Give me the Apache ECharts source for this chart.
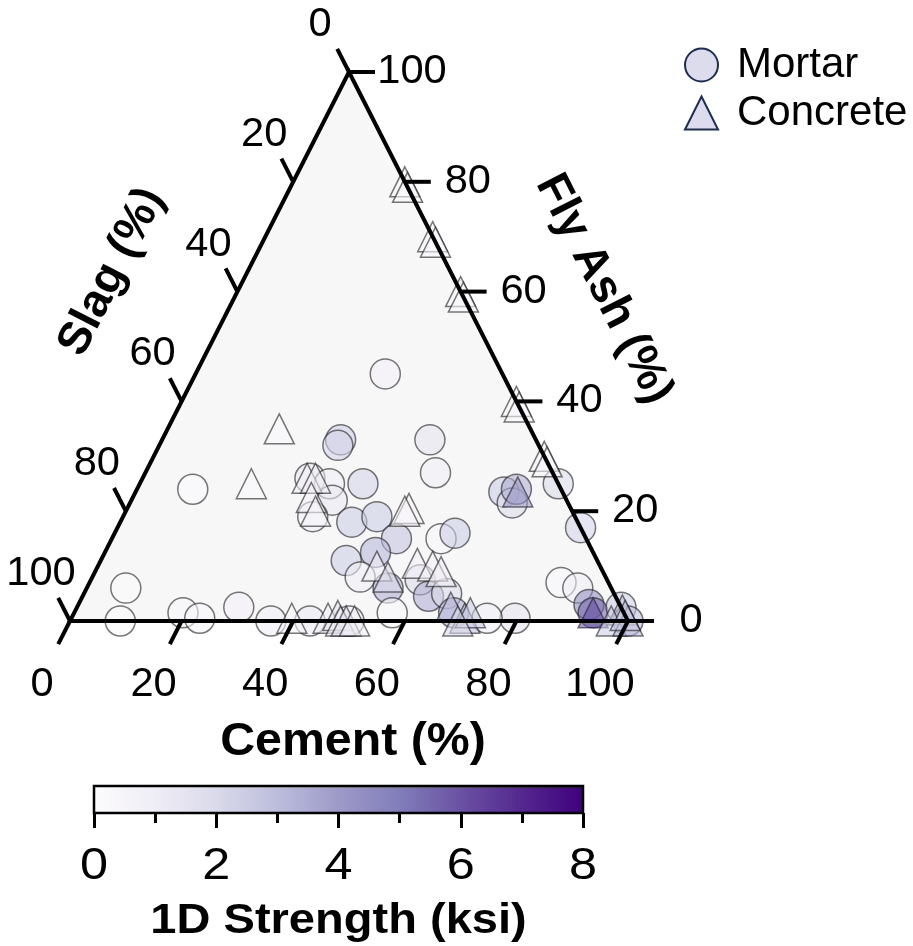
<!DOCTYPE html>
<html><head><meta charset="utf-8">
<script src="https://cdn.jsdelivr.net/npm/echarts@6/dist/echarts.min.js"></script>
<style>html,body{margin:0;padding:0;background:#fff}#c{width:913px;height:946px}</style>
</head><body><div id="c"></div>
<script>
// ---- tick labels ----
const ternaryTicks = [0, 20, 40, 60, 80, 100];
const strengthTicks = [0, 2, 4, 6, 8];

// ---- Mortar (percent cement / slag / fly ash, 1D strength ksi) ----
const mortarCement = [34, 32, 32, 48, 52, 10, 7, 9, 19.5, 23, 29, 36, 43, 50, 30, 34, 36, 34, 40, 41.5, 45.5, 51, 59, 61, 44, 48.5, 48, 54, 59, 62, 65, 57, 66, 68.5, 68, 75, 83, 84.5, 88, 91.5, 93, 97.5, 100, 79.5, 74.5, 68];
const mortarSlag   = [21, 35, 36, 19, 21, 66, 87, 91, 79, 76.5, 68.5, 64, 57, 50, 44, 41, 42, 47, 35, 40.5, 35.5, 34, 26, 23, 45, 39, 44, 40, 33.5, 33.5, 30, 41.5, 10.5, 10, 8, 0, 0, 8.5, 6, 5.5, 5.5, 0, 0, 20, 25, 30.5];
const mortarFlyAsh = [45, 33, 32, 33, 27, 24, 6, 0, 1.5, 0.5, 2.5, 0, 0, 0, 26, 25, 22, 19, 25, 18, 19, 15, 15, 16, 11, 12.5, 8, 6, 7.5, 4.5, 5, 1.5, 23.5, 21.5, 24, 25, 17, 7, 6, 3, 1.5, 2.5, 0, 0.5, 0.5, 1.5];
const mortarStrength = [0.8, 2.5, 2.2, 1.5, 1.0, 0.2, 0.1, 0.1, 0.4, 0.3, 0.8, 0.9, 1.2, 1.0, 1.2, 1.0, 1.2, 1.0, 2.2, 2.5, 2.5, 2.8, 0.5, 2.5, 2.5, 3.2, 0.9, 3.5, 2.0, 3.5, 2.0, 0.3, 2.5, 2.0, 3.5, 2.0, 2.2, 0.3, 1.0, 4.5, 5.5, 2.5, 3.0, 1.5, 1.0, 3.5];

// ---- Concrete ----
const concreteCement = [20, 20, 20, 21, 30, 31, 40, 41, 60, 61, 70, 71, 68.5, 50.5, 50, 29.5, 31, 32, 34, 50, 53, 57, 60, 62, 67, 39.5, 46, 47.5, 48.5, 49.5, 51, 70.5, 71, 69.5, 93, 98, 97, 100, 99];
const concreteSlag   = [45, 55, 0, 0, 0, 0, 0, 0, 0, 0, 0, 0, 8, 29, 30, 44.5, 43, 45.5, 46, 40, 39, 32.5, 30, 29, 30.5, 60, 53.5, 51.5, 51.5, 50.5, 49, 29, 27.5, 30.5, 5.5, 0, 3, 0, 0];
const concreteFlyAsh = [35, 25, 80, 79, 70, 69, 60, 59, 40, 39, 30, 29, 23.5, 20.5, 20, 26, 26, 22.5, 20, 10, 8, 10.5, 10, 9, 2.5, 0.5, 0.5, 1, 0, 0, 0, 0.5, 1.5, 0, 1.5, 2, 0, 0, 1];
const concreteStrength = [0.3, 0.3, 0.3, 0.3, 0.3, 0.3, 0.3, 0.3, 0.3, 0.3, 0.5, 0.5, 4.0, 0.5, 0.5, 0.8, 1.0, 0.8, 0.5, 1.0, 2.0, 0.8, 0.8, 1.0, 3.0, 0.5, 1.0, 1.5, 1.0, 1.5, 1.0, 3.0, 2.5, 2.0, 6.0, 3.0, 2.5, 3.0, 2.5];

const FONT = '"Liberation Sans", Arial, Helvetica, sans-serif';
const PURPLES = ['#fcfbfd', '#efedf5', '#dadaeb', '#bcbddc', '#9e9ac8', '#807dba', '#6a51a3', '#54278f', '#3f007d'];

// ternary (cement, slag, fly ash) -> cartesian (X, Y) on a 0..100 grid
function ternary(c, s, f) { return [c + f / 2, f]; }
const mortarData = mortarCement.map((c, i) => ternary(c, mortarSlag[i], mortarFlyAsh[i]).concat([mortarStrength[i], c, mortarSlag[i], mortarFlyAsh[i]]));
const concreteData = concreteCement.map((c, i) => ternary(c, concreteSlag[i], concreteFlyAsh[i]).concat([concreteStrength[i], c, concreteSlag[i], concreteFlyAsh[i]]));

const chart = echarts.init(document.getElementById('c'), null, { renderer: 'canvas' });

function unit(a, b) { const dx = b[0] - a[0], dy = b[1] - a[1]; const l = Math.hypot(dx, dy); return [dx / l, dy / l]; }

const option = {
  backgroundColor: '#ffffff',
  animation: false,
  grid: [
    { left: 70, top: 72, width: 558, height: 549 },
    { left: 94, top: 786, width: 489, height: 27 }
  ],
  xAxis: [
    { gridIndex: 0, type: 'value', min: 0, max: 100, show: false },
    { gridIndex: 1, type: 'value', min: 0, max: 8, interval: 2, position: 'bottom',
      axisLine: { show: false },
      axisTick: { show: true, length: 15, lineStyle: { width: 3, color: '#000' } },
      minorTick: { show: true, splitNumber: 2, length: 10, lineStyle: { width: 3, color: '#000' } },
      splitLine: { show: false },
      axisLabel: { show: false }
    }
  ],
  yAxis: [
    { gridIndex: 0, type: 'value', min: 0, max: 100, show: false },
    { gridIndex: 1, type: 'value', min: 0, max: 1, show: false }
  ],
  visualMap: {
    show: false, type: 'continuous', min: 0, max: 8, dimension: 2, seriesIndex: [1, 2],
    inRange: { color: PURPLES, colorAlpha: 0.72 }
  },
  legend: {
    orient: 'vertical', left: 684, top: 44, padding: 0, itemWidth: 33, itemHeight: 33, itemGap: 6,
    textStyle: { fontSize: 42, lineHeight: 40, color: '#000', fontFamily: FONT, padding: [0, 0, 0, 14] },
    data: [
      { name: 'Mortar', icon: 'circle', itemStyle: { color: '#dcdcec', borderColor: '#1c2c55', borderWidth: 2, opacity: 1 } },
      { name: 'Concrete', icon: 'triangle', itemStyle: { color: '#dcdcec', borderColor: '#1c2c55', borderWidth: 2, opacity: 1 } }
    ]
  },
  series: [
    { // triangle background
      type: 'custom', xAxisIndex: 0, yAxisIndex: 0, z: 1, silent: true, clip: false,
      data: [[0, 0]],
      renderItem: function (params, api) {
        const a = api.coord([0, 0]), b = api.coord([100, 0]), t = api.coord([50, 100]);
        return { type: 'polygon', shape: { points: [a, b, t] }, style: { fill: '#f7f7f7', stroke: null } };
      }
    },
    {
      name: 'Mortar', type: 'scatter', xAxisIndex: 0, yAxisIndex: 0, z: 2,
      symbol: 'circle', symbolSize: 30,
      itemStyle: { borderColor: 'rgba(30,30,30,0.75)', borderWidth: 1.5 },
      data: mortarData
    },
    {
      name: 'Concrete', type: 'scatter', xAxisIndex: 0, yAxisIndex: 0, z: 2,
      symbol: 'triangle', symbolSize: 30,
      itemStyle: { borderColor: 'rgba(30,30,30,0.75)', borderWidth: 1.5 },
      data: concreteData
    },
    { // frame, ticks and tick labels
      type: 'custom', xAxisIndex: 0, yAxisIndex: 0, z: 5, silent: true, clip: false,
      data: [[0, 0]],
      renderItem: function (params, api) {
        const a = api.coord([0, 0]), b = api.coord([100, 0]), t = api.coord([50, 100]);
        const children = [{
          type: 'polygon', shape: { points: [a, b, t] },
          style: { fill: null, stroke: '#000', lineWidth: 4, lineJoin: 'miter' }
        }];
        const dCem = unit(t, a);      // parallel to left edge, pointing down-left
        const dSlag = unit(b, t);     // parallel to right edge, pointing up-left
        const L = 26;
        const lbl = (txt, x, y) => ({ type: 'text', x: x, y: y, scaleX: 1.04, style: { text: txt, x: 0, y: 0, fontSize: 40, fontFamily: FONT, fill: '#000', align: 'center', verticalAlign: 'middle' } });
        const tk = (p, d) => ({ type: 'line', shape: { x1: p[0], y1: p[1], x2: p[0] + d[0] * L, y2: p[1] + d[1] * L }, style: { stroke: '#000', lineWidth: 4 } });
        ternaryTicks.forEach(function (v) {
          // cement axis (bottom)
          const pc = api.coord(ternary(v, 100 - v, 0));
          children.push(tk(pc, dCem), lbl(String(v), pc[0] - 28, pc[1] + 64));
          // slag axis (left)
          const ps = api.coord(ternary(0, v, 100 - v));
          children.push(tk(ps, dSlag), lbl(String(v), ps[0] - 29, ps[1] - 47));
          // fly ash axis (right)
          const pf = api.coord(ternary(100 - v, 0, v));
          children.push(tk(pf, [1, 0]), lbl(String(v), pf[0] + 63, pf[1]));
        });
        return { type: 'group', children: children };
      }
    },
    { // colour bar with its labels and title
      type: 'custom', xAxisIndex: 1, yAxisIndex: 1, z: 5, silent: true, clip: false,
      data: [[strengthTicks[0], strengthTicks[strengthTicks.length - 1]]],
      renderItem: function (params, api) {
        const p0 = api.coord([api.value(0), 1]), p1 = api.coord([api.value(1), 0]);
        const stops = PURPLES.map((c, i) => ({ offset: i / (PURPLES.length - 1), color: c }));
        const children = [{ type: 'rect', shape: { x: p0[0], y: p0[1], width: p1[0] - p0[0], height: p1[1] - p0[1] },
          style: { fill: new echarts.graphic.LinearGradient(0, 0, 1, 0, stops), stroke: '#000', lineWidth: 2.5 } }];
        strengthTicks.forEach(function (v) {
          const p = api.coord([v, 0]);
          children.push({ type: 'text', x: p[0], y: p[1] + 54, scaleX: 1.12,
            style: { text: String(v), x: 0, y: 0, fontSize: 45, fontFamily: FONT, fill: '#000', align: 'center', verticalAlign: 'middle' } });
        });
        children.push({ type: 'text', x: (p0[0] + p1[0]) / 2, y: p1[1] + 108, scaleX: 1.12,
          style: { text: '1D Strength (ksi)', x: 0, y: 0, fontSize: 42, fontWeight: 'bold', fontFamily: FONT, fill: '#000', align: 'center', verticalAlign: 'middle' } });
        return { type: 'group', children: children };
      }
    }
  ],
  graphic: [
    { type: 'text', x: 353, y: 742, scaleX: 1.05, style: { text: 'Cement (%)', x: 0, y: 0, fontSize: 46, fontWeight: 'bold', fontFamily: FONT, fill: '#000', align: 'center', verticalAlign: 'middle' } },
    { type: 'text', x: 112, y: 272, rotation: 63 * Math.PI / 180, style: { text: 'Slag (%)', x: 0, y: 0, fontSize: 46, fontWeight: 'bold', fontFamily: FONT, fill: '#000', align: 'center', verticalAlign: 'middle' } },
    { type: 'text', x: 604, y: 289, rotation: -63 * Math.PI / 180, style: { text: 'Fly Ash (%)', x: 0, y: 0, fontSize: 46, fontWeight: 'bold', fontFamily: FONT, fill: '#000', align: 'center', verticalAlign: 'middle' } }
  ]
};
chart.setOption(option);
</script>
</body></html>
